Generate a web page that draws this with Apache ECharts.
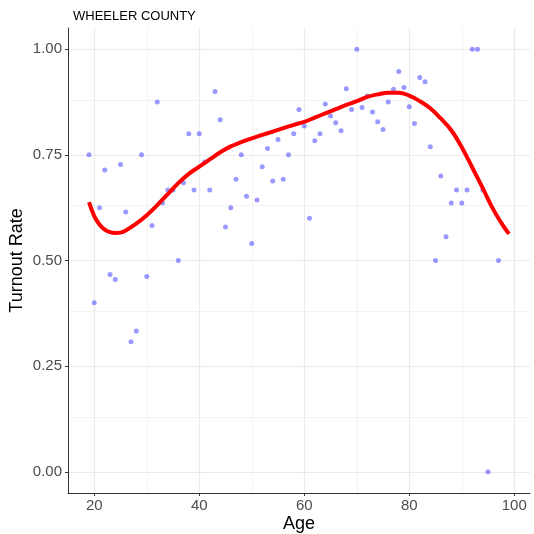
<!DOCTYPE html>
<html>
<head>
<meta charset="utf-8">
<script src="https://cdn.jsdelivr.net/npm/echarts@6/dist/echarts.min.js"></script>
<style>
html,body{margin:0;padding:0;background:#fff;}
#chart{width:534px;height:534px;}
</style>
</head>
<body>
<div id="chart"></div>
<script>
// ---- data ----
const title = "WHEELER COUNTY";
const ages = [19,20,21,22,23,24,25,26,27,28,29,30,31,32,33,34,35,36,37,38,39,40,41,42,43,44,45,46,47,48,49,50,51,52,53,54,55,56,57,58,59,60,61,62,63,64,65,66,67,68,69,70,71,72,73,74,75,76,77,78,79,80,81,82,83,84,85,86,87,88,89,90,91,92,93,94,95,97];
const turnout = [0.75,0.40,0.625,0.714,0.467,0.455,0.727,0.615,0.308,0.333,0.75,0.462,0.583,0.875,0.636,0.667,0.667,0.50,0.684,0.80,0.667,0.80,0.733,0.667,0.90,0.833,0.579,0.625,0.692,0.75,0.652,0.54,0.643,0.722,0.765,0.688,0.786,0.692,0.75,0.80,0.857,0.818,0.60,0.783,0.80,0.87,0.842,0.826,0.807,0.906,0.857,1.0,0.862,0.889,0.851,0.828,0.81,0.875,0.905,0.947,0.909,0.864,0.824,0.933,0.923,0.769,0.50,0.70,0.556,0.636,0.667,0.636,0.667,1.0,1.0,0.667,0.0,0.50];
const smoothAges = [19,20,21,22,23,24,25,26,28,30,32,34,36,38,40,42,44,46,48,50,52,54,56,58,60,62,64,66,68,70,72,74,76,78,80,82,84,86,88,90,92,94,96,98,99];
const smoothFit = [0.638,0.605,0.585,0.573,0.567,0.565,0.566,0.571,0.587,0.607,0.631,0.657,0.683,0.705,0.722,0.739,0.756,0.770,0.780,0.789,0.797,0.805,0.813,0.821,0.828,0.838,0.848,0.858,0.868,0.877,0.887,0.893,0.897,0.897,0.890,0.877,0.860,0.836,0.808,0.768,0.720,0.671,0.621,0.580,0.563];
const xTicks = [20,40,60,80,100];
const yTicks = [0,0.25,0.5,0.75,1.0];
const xMajorGrid = [20,40,60,80,100];
const xMinorGrid = [30,50,70,90];
const yMajorGrid = [0,0.25,0.5,0.75,1.0];
const yMinorGrid = [0.125,0.375,0.625,0.875];

const font = "'Liberation Sans', Arial, Helvetica, sans-serif";
const chart = echarts.init(document.getElementById('chart'), null, {renderer:'canvas'});

function vLines(vals, color, w){
  return vals.map(v => ({xAxis: v, lineStyle:{color:color, width:w, type:'solid'}}));
}
function hLines(vals, color, w){
  return vals.map(v => ({yAxis: v, lineStyle:{color:color, width:w, type:'solid'}}));
}

chart.setOption({
  animation:false,
  backgroundColor:'#ffffff',
  title:{
    text:title, left:68, top:5,
    textStyle:{fontFamily:font, fontSize:13, fontWeight:'normal', color:'#000'}
  },
  grid:{left:68, right:4, top:28, bottom:41, containLabel:false, outerBoundsMode:'none'},
  xAxis:{
    type:'value', min:15, max:103,
    name:'Age', nameLocation:'middle', nameGap:22, nameMoveOverlap:false,
    nameTextStyle:{fontFamily:font, fontSize:18, color:'#000'},
    axisLine:{show:true, onZero:false, lineStyle:{color:'#333333', width:1}},
    axisTick:{show:true, length:3, customValues:xTicks, lineStyle:{color:'#333333'}},
    axisLabel:{customValues:xTicks, fontFamily:font, fontSize:15, color:'#4d4d4d', margin:5},
    splitLine:{show:false}
  },
  yAxis:{
    type:'value', min:-0.05, max:1.05,
    name:'Turnout Rate', nameLocation:'middle', nameGap:42, nameRotate:90, nameMoveOverlap:false,
    nameTextStyle:{fontFamily:font, fontSize:18, color:'#000'},
    axisLine:{show:true, onZero:false, lineStyle:{color:'#333333', width:1}},
    axisTick:{show:true, length:3, customValues:yTicks, lineStyle:{color:'#333333'}},
    axisLabel:{customValues:yTicks, fontFamily:font, fontSize:15, color:'#4d4d4d', margin:6,
      formatter: v => v.toFixed(2)},
    splitLine:{show:false}
  },
  series:[
    {
      type:'line', data:[], silent:true, z:0,
      markLine:{
        silent:true, symbol:'none', label:{show:false}, animation:false, z:0,
        data:[].concat(
          vLines(xMinorGrid,'#f3f3f3',1), hLines(yMinorGrid,'#f3f3f3',1),
          vLines(xMajorGrid,'#ebebeb',1.2), hLines(yMajorGrid,'#ebebeb',1.2)
        )
      }
    },
    {
      type:'scatter', z:3,
      data: ages.map((a,i)=>[a, turnout[i]]),
      symbolSize:5,
      itemStyle:{color:'rgba(0,0,255,0.5)'}
    },
    {
      type:'line', z:4,
      data: smoothAges.map((a,i)=>[a, smoothFit[i]]),
      smooth:0.4, showSymbol:false, symbol:'none',
      lineStyle:{color:'#ff0000', width:4}
    }
  ]
});
</script>
</body>
</html>
